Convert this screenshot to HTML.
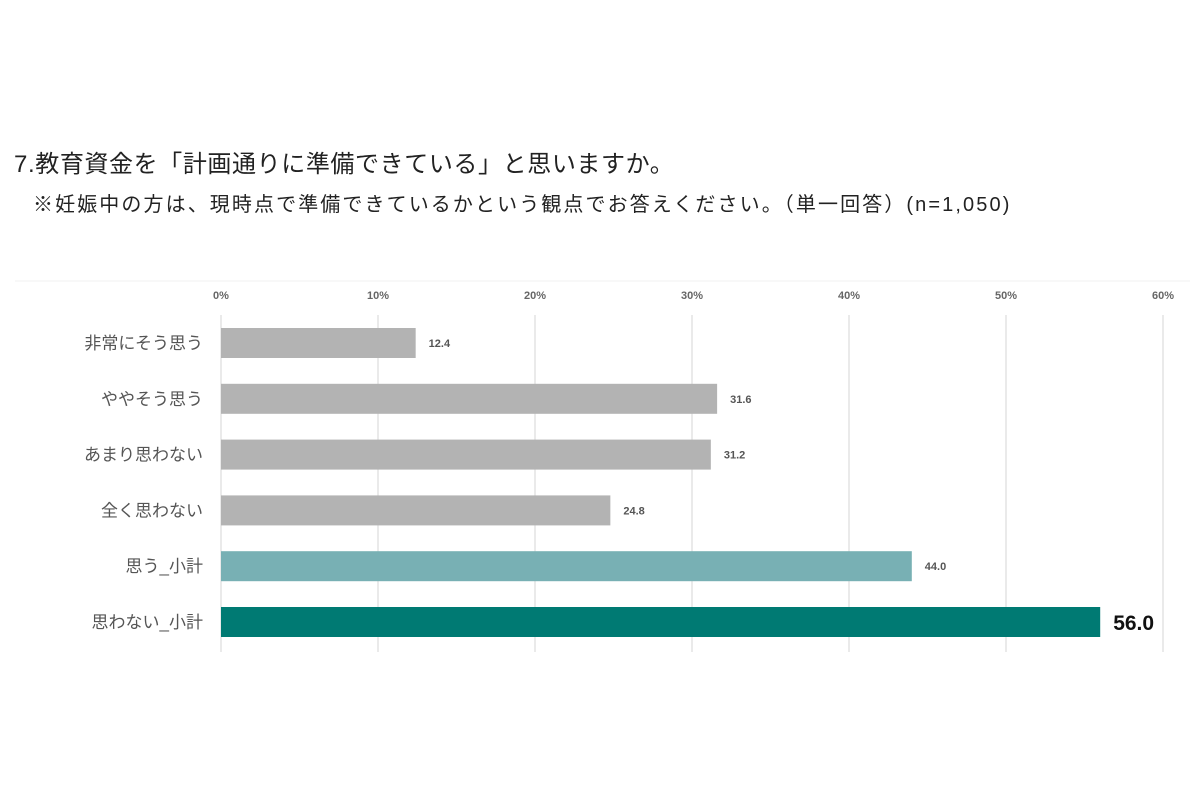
<!DOCTYPE html>
<html><head><meta charset="utf-8"><style>
body{margin:0;width:1200px;height:800px;background:#fff;overflow:hidden;font-family:"Liberation Sans","Noto Sans CJK JP",sans-serif;}
.t{position:absolute;white-space:nowrap;color:#222;}
</style></head><body>
<div class="t" style="left:14px;top:144px;font-size:24px;letter-spacing:0.6px;">7.教育資金を「計画通りに準備できている」と思いますか。</div>
<div class="t" style="left:33px;top:188px;font-size:20px;letter-spacing:2.1px;">※妊娠中の方は、現時点で準備できているかという観点でお答えください。（単一回答）(n=1,050)</div>
<svg id="c" width="1200" height="800" style="position:absolute;left:0;top:0"></svg>
<script>
const categories=["非常にそう思う","ややそう思う","あまり思わない","全く思わない","思う_小計","思わない_小計"];
const values=[12.4,31.6,31.2,24.8,44.0,56.0];
const colors=["#b3b3b3","#b3b3b3","#b3b3b3","#b3b3b3","#78b0b4","#007a73"];
const ticks=[0,10,20,30,40,50,60];
const NS="http://www.w3.org/2000/svg";
const svg=document.getElementById('c');
const x=v=>221+v*(1163-221)/60;
const yc=i=>343+i*55.8;
function mk(t,a){const e=document.createElementNS(NS,t);for(const k in a)e.setAttribute(k,a[k]);svg.appendChild(e);return e;}
let l=mk('line',{x1:15,x2:1190,y1:281,y2:281,stroke:'#f0f0f0'});


ticks.forEach(t=>{
 const g=mk('line',{x1:x(t),x2:x(t),y1:315,y2:652,stroke:'#e3e3e3','stroke-width':1.5});
 
 
 const tx=mk('text',{x:x(t),y:299,'text-anchor':'middle','font-size':11,'font-weight':'bold',fill:'#666'});
 tx.textContent=t+'%';
 
 
});
categories.forEach((c,i)=>{
 const y=yc(i);
 const lb=mk('text',{x:203,y:y+6,'text-anchor':'end','font-size':17,fill:'#555'});
 lb.textContent=c;
 
 
 const b=mk('rect',{x:x(0),y:y-15,width:x(values[i])-x(0),height:30,fill:colors[i]});
 
 
 const big=i===5;
 const v=mk('text',{x:x(values[i])+13,y:y+(big?8:4),'font-size':big?21:11,'font-weight':'bold',fill:big?'#111':'#555'});
 v.textContent=values[i].toFixed(1);
 
 
});
</script>
</body></html>
